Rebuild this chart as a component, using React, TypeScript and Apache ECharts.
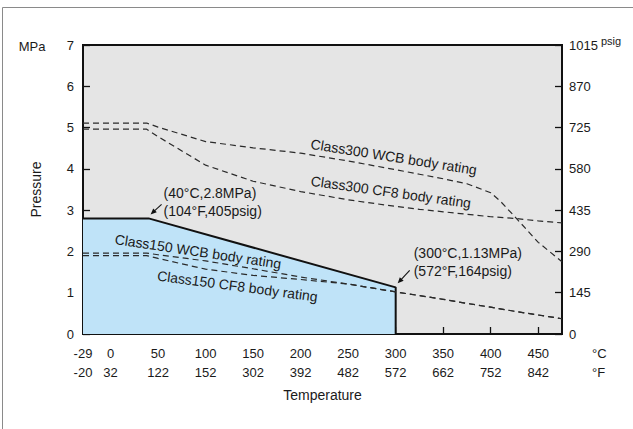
import React, { useEffect, useRef } from 'react';
import * as echarts from 'echarts';

// Axis tick labels
const tickC = [-29, 0, 50, 100, 150, 200, 250, 300, 350, 400, 450];
const tickF = ['-20', '32', '122', '152', '302', '392', '482', '572', '662', '752', '842'];
const tickMarksC = [0, 50, 100, 150, 200, 250, 300, 350, 400, 450];
const psigPerMPa = 145;

// Series data (temperature °C -> pressure MPa)
const tempsC = [-29, 38, 50, 100, 150, 200, 250, 300, 325, 350, 375, 400, 425, 450, 475];
const tempsWCB300 = [-29, 38, 50, 100, 150, 200, 250, 300, 325, 350, 375, 400, 410, 425, 450, 475];
const class300WCB = [5.11, 5.11, 5.01, 4.66, 4.51, 4.38, 4.19, 3.98, 3.87, 3.76, 3.64, 3.42, 3.22, 2.85, 2.22, 1.75];
const class300CF8 = [4.96, 4.96, 4.78, 4.09, 3.7, 3.45, 3.25, 3.09, 3.02, 2.96, 2.9, 2.84, 2.8, 2.74, 2.69];
const class150WCB = [1.96, 1.96, 1.92, 1.77, 1.58, 1.38, 1.21, 1.02, 0.93, 0.84, 0.74, 0.65, 0.55, 0.46, 0.37];
const class150CF8 = [1.9, 1.9, 1.83, 1.57, 1.42, 1.32, 1.21, 1.02, 0.93, 0.84, 0.74, 0.65, 0.55, 0.46, 0.37];
const limitTemps = [-29, 40, 300, 300];
const limitMPa = [2.8, 2.8, 1.13, 0];

// Annotations
const curveLabels = [
  { text: 'Class300 WCB body rating', x: 298, y: 4.29, angle: -9 },
  { text: 'Class300 CF8 body rating', x: 295, y: 3.44, angle: -8 },
  { text: 'Class150 WCB body rating', x: 92, y: 2.0, angle: -8.5 },
  { text: 'Class150 CF8 body rating', x: 133.5, y: 1.16, angle: -7.5 },
];
const pointNotes = [
  { x: 40, y: 2.8, lines: ['(40°C,2.8MPa)', '(104°F,405psig)'], tail: [13, -14], textDx: 15, textDy: -25 },
  { x: 300, y: 1.13, lines: ['(300°C,1.13MPa)', '(572°F,164psig)'], tail: [14, -17], textDx: 18, textDy: -34 },
];

const FONT = '"Liberation Sans", Arial, Helvetica, sans-serif';
const TXT = '#1a1a1a';

const zip = (xs: number[], ys: number[]) => xs.map((x, i) => [x, ys[i]]);

export default function App() {
  const ref = useRef<HTMLDivElement>(null);
  useEffect(() => {
    if (!ref.current) return;
    const chart = echarts.init(ref.current, undefined, { renderer: 'svg' });
    const dashed = (name: string, data: number[][]) => ({
      name,
      type: 'line',
      data,
      symbol: 'none',
      z: 5,
      lineStyle: { color: '#2a2a2a', width: 1.2, type: [6, 4] },
    });
    chart.setOption({
      animation: false,
      grid: {
        left: 83,
        right: 71,
        top: 45,
        bottom: 95,
        show: true,
        backgroundColor: '#e5e5e5',
        borderColor: '#111',
        borderWidth: 2,
      },
      xAxis: {
        type: 'value',
        min: -29,
        max: 475,
        splitLine: { show: false },
        axisLine: { onZero: false, lineStyle: { color: '#111', width: 2 } },
        axisTick: { show: true, inside: true, length: 7, customValues: tickMarksC, lineStyle: { color: '#111', width: 1.3 } },
        axisLabel: {
          customValues: tickC,
          formatter: (v: number) => {
            const i = tickC.indexOf(Math.round(v));
            return i >= 0 ? `${tickC[i]}\n${tickF[i]}` : '';
          },
          color: TXT,
          fontSize: 13,
          fontFamily: FONT,
          lineHeight: 19,
          margin: 10,
        },
        name: 'Temperature',
        nameLocation: 'middle',
        nameGap: 54,
        nameTextStyle: { color: TXT, fontSize: 14, fontFamily: FONT },
      },
      yAxis: [
        {
          type: 'value',
          position: 'left',
          min: 0,
          max: 7,
          interval: 1,
          splitLine: { show: false },
          axisLine: { show: true, onZero: false, lineStyle: { color: '#111', width: 2 } },
          axisTick: { show: true, inside: true, length: 7, lineStyle: { color: '#111', width: 1.3 } },
          axisLabel: { color: TXT, fontSize: 13, fontFamily: FONT, margin: 9 },
          name: 'Pressure',
          nameLocation: 'middle',
          nameGap: 40,
          nameRotate: 90,
          nameTextStyle: { color: TXT, fontSize: 14, fontFamily: FONT },
        },
        {
          type: 'value',
          position: 'right',
          min: 0,
          max: 7 * psigPerMPa,
          interval: psigPerMPa,
          splitLine: { show: false },
          axisLine: { show: true, onZero: false, lineStyle: { color: '#111', width: 2 } },
          axisTick: { show: true, inside: true, length: 7, lineStyle: { color: '#111', width: 1.3 } },
          axisLabel: { color: TXT, fontSize: 13, fontFamily: FONT, margin: 7, formatter: (v: number) => String(v) },
        },
      ],
      series: [
        {
          name: 'Class150 limit',
          type: 'line',
          data: zip(limitTemps, limitMPa),
          symbol: 'none',
          z: 3,
          lineStyle: { color: '#111', width: 2 },
          areaStyle: { color: '#bfe3f8', opacity: 1 },
        },
        dashed('Class300 WCB', zip(tempsWCB300, class300WCB)),
        dashed('Class300 CF8', zip(tempsC, class300CF8)),
        dashed('Class150 WCB', zip(tempsC, class150WCB)),
        dashed('Class150 CF8', zip(tempsC, class150CF8)),
      ],
    });

    const px = (x: number, y: number) => chart.convertToPixel({ gridIndex: 0 }, [x, y]) as number[];
    const elements: any[] = [
      {
        type: 'rect',
        shape: { x: 2.5, y: 7.5, width: 700, height: 500 },
        style: { fill: 'none', stroke: '#8a8a8a', lineWidth: 1 },
        z: 0,
      },
      { type: 'text', x: 32, y: 46, style: { text: 'MPa', fill: TXT, font: `13px ${FONT}`, align: 'center', verticalAlign: 'middle' }, z: 10 },
      { type: 'text', x: 601, y: 41, style: { text: 'psig', fill: TXT, font: `11px ${FONT}`, align: 'left', verticalAlign: 'middle' }, z: 10 },
      { type: 'text', x: 592, y: 353, style: { text: '°C', fill: TXT, font: `13px ${FONT}`, align: 'left', verticalAlign: 'middle' }, z: 10 },
      { type: 'text', x: 592, y: 372, style: { text: '°F', fill: TXT, font: `13px ${FONT}`, align: 'left', verticalAlign: 'middle' }, z: 10 },
    ];
    curveLabels.forEach((c) => {
      const [cx, cy] = px(c.x, c.y);
      elements.push({
        type: 'text',
        x: cx,
        y: cy,
        rotation: (c.angle * Math.PI) / 180,
        style: { text: c.text, fill: TXT, font: `14px ${FONT}`, align: 'center', verticalAlign: 'middle' },
        z: 10,
      });
    });
    pointNotes.forEach((n) => {
      const [ax, ay] = px(n.x, n.y);
      const tip = [ax + 2, ay - 4];
      const tail = [ax + n.tail[0], ay + n.tail[1]];
      const dx = tip[0] - tail[0];
      const dy = tip[1] - tail[1];
      const len = Math.hypot(dx, dy);
      const ux = dx / len;
      const uy = dy / len;
      const hl = 6;
      const hw = 2.6;
      elements.push({
        type: 'line',
        shape: { x1: tail[0], y1: tail[1], x2: tip[0] - ux * 3, y2: tip[1] - uy * 3 },
        style: { stroke: '#111', lineWidth: 1.1 },
        z: 10,
      });
      elements.push({
        type: 'polygon',
        shape: {
          points: [
            tip,
            [tip[0] - ux * hl - uy * hw, tip[1] - uy * hl + ux * hw],
            [tip[0] - ux * hl + uy * hw, tip[1] - uy * hl - ux * hw],
          ],
        },
        style: { fill: '#111' },
        z: 10,
      });
      n.lines.forEach((t, i) => {
        elements.push({
          type: 'text',
          x: ax + n.textDx,
          y: ay + n.textDy + i * 18,
          style: { text: t, fill: TXT, font: `14px ${FONT}`, align: 'left', verticalAlign: 'middle' },
          z: 10,
        });
      });
    });
    chart.setOption({ graphic: { elements } });
    return () => chart.dispose();
  }, []);
  return (
    <div
      ref={ref}
      style={{ position: 'fixed', left: 0, top: 0, width: 633, height: 429, background: '#fff' }}
    />
  );
}
